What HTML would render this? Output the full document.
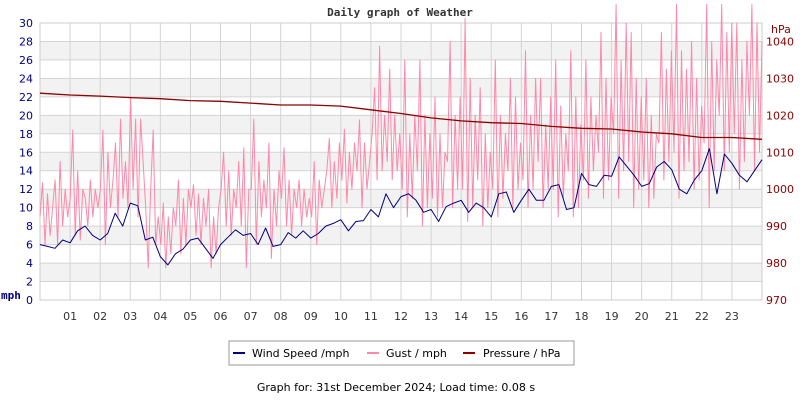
<!DOCTYPE html>
<html><head><meta charset="utf-8"><style>
body{margin:0;background:#fff;width:800px;height:400px;overflow:hidden;font-family:"DejaVu Sans Mono","Liberation Mono",monospace;}
svg{display:block}
</style></head><body>
<svg id="chart" width="800" height="400" viewBox="0 0 800 400" xmlns="http://www.w3.org/2000/svg">
<text x="400" y="16" text-anchor="middle" font-family="DejaVu Sans Mono, Liberation Mono, monospace" font-weight="bold" font-size="11" fill="#333">Daily graph of Weather</text>
<g id="grid"></g>
<g id="axes"></g>
<g id="series"></g>
<text x="1" y="299" font-family="DejaVu Sans Mono, monospace" font-weight="bold" font-size="11" fill="#000080">mph</text>
<text x="771" y="33" font-family="DejaVu Sans, sans-serif" font-size="11" fill="#8b0000">hPa</text>
<g>
<rect x="229" y="341" width="345" height="24" fill="#fff" stroke="#999"/>
<g><line x1="233" y1="353" x2="245" y2="353" stroke="#000080" stroke-width="2"/><text x="252" y="357" font-family="DejaVu Sans, sans-serif" font-size="11" fill="#000">Wind Speed /mph</text></g>
<g><line x1="367" y1="353" x2="379" y2="353" stroke="#ff88aa" stroke-width="2"/><text x="386" y="357" font-family="DejaVu Sans, sans-serif" font-size="11" fill="#000">Gust / mph</text></g>
<g><line x1="463" y1="353" x2="475" y2="353" stroke="#8b0000" stroke-width="2"/><text x="483" y="357" font-family="DejaVu Sans, sans-serif" font-size="11" fill="#000">Pressure / hPa</text></g>
</g>
<text x="396" y="391" text-anchor="middle" font-family="DejaVu Sans, sans-serif" font-size="11" fill="#000">Graph for: 31st December 2024; Load time: 0.08 s</text>
</svg>
<script>
const hourLabels=["01","02","03","04","05","06","07","08","09","10","11","12","13","14","15","16","17","18","19","20","21","22","23"];
const mphTicks=[0,2,4,6,8,10,12,14,16,18,20,22,24,26,28,30];
const hpaTicks=[970,980,990,1000,1010,1020,1030,1040];
// wind speed, every 15 minutes (mph)
const windSpeed=[6,5.8,5.6,6.5,6.2,7.5,8,7,6.5,7.2,9.4,8,10.5,10.2,6.5,6.8,4.7,3.8,5,5.5,6.5,6.7,5.6,4.5,6,6.8,7.6,7,7.2,6,7.8,5.8,6,7.3,6.7,7.5,6.7,7.2,8,8.3,8.7,7.5,8.5,8.6,9.8,9,11.5,10,11.2,11.5,10.8,9.5,9.8,8.5,10.1,10.5,10.8,9.5,10.5,10,9,11.5,11.7,9.5,10.8,12,10.8,10.8,12.3,12.5,9.8,10,13.7,12.5,12.3,13.5,13.4,15.5,14.5,13.5,12.3,12.6,14.4,15,14.1,12,11.5,13,14,16.4,11.5,15.8,14.8,13.5,12.8,14,15.2];
// gust, every 5 minutes (mph)
const gust=[9,12.7,6,11.5,7,10, 13,6,15,8,12,9, 11,18.4,7,14,6.5,12, 11,8,13,9,12,10, 12,18.4,6,16,10,13, 17,9,19.6,11,15,10,
22,12,19.6,9,19.6,15, 10,3.5,12,18.4,6,9, 6,10.5,3.5,9,5,10, 8,13,5,11,6,12, 10,12.5,7,11.5,6,11, 8,12,3.5,9,5,10,
12,16,8,14,7,12, 10,15,8,16.5,3.5,12, 12,19.6,6,15,9,13, 10,17,4.5,12,8,14, 11,16.5,8,13,7,12, 10,13,8,12,9,11,
9,15,6,13,10,12, 14,17.5,10,15,11,17, 13,18.5,10.5,16,12,17, 14,19.5,10,17,12,15, 18,23,13,27.5,14,20, 15,25,13,20,14,18,
12,26,9,18,11,20, 14,26,8,20,10,18, 11,22,9,18,10,16, 15,28,10,20,12,22, 12,30.5,8.5,24,10,20, 13,23,8,18,10,16,
12,26,9,20,11,18, 14,24,10,22,12,17, 13,27,10,20,12,24, 15,24,10,19,12,22, 12,26,9,21,11,18, 14,27,9,22,10,19,
13,26,11,22,14,20, 16,29,11,24,13,22, 18,32,11,26,14,30, 15,29,10,24,12,22, 13,24,10,20,11,18, 17,29,13,25,15,27,
16,32,11,27,14,25, 15,28,12,24,13,21, 17,32,10,28,14,26, 20,32,14,29,16,30, 18,30,12,26,15,28, 20,32,14,30,16,28];
// pressure, hourly (hPa)
const pressure=[1026,1025.5,1025.2,1024.8,1024.5,1024,1023.8,1023.3,1022.8,1022.8,1022.5,1021.5,1020.5,1019.3,1018.5,1018,1017.8,1017,1016.5,1016.3,1015.5,1015,1014,1014,1013.5];

const NS="http://www.w3.org/2000/svg";
const X0=40,X1=762,Y0=300,Y1=23;
const xH=h=>X0+h*(X1-X0)/24;
const yM=v=>Y0-v*(Y0-Y1)/30;
const yP=p=>yM((p-970)/2.5);
function mk(tag,attrs,parent){const e=document.createElementNS(NS,tag);for(const k in attrs)e.setAttribute(k,attrs[k]);parent.appendChild(e);return e;}
const grid=document.getElementById('grid'),axes=document.getElementById('axes'),series=document.getElementById('series');
for(let v=2;v<30;v+=4){
  const b=mk('rect',{x:X0,y:yM(v+2),width:X1-X0,height:yM(v)-yM(v+2),fill:'#f2f2f2'},grid);
  
  
}
mphTicks.forEach(v=>{
  const l=mk('line',{x1:X0,x2:X1,y1:yM(v),y2:yM(v),stroke:'#d4d4d4','stroke-width':1},grid);
  
  
  const t=mk('text',{x:33,y:yM(v)+4,'text-anchor':'end','font-size':11,'font-family':'DejaVu Sans, sans-serif',fill:'#000080'},axes);
  t.textContent=v;
  
  
});
hpaTicks.forEach(p=>{
  const t=mk('text',{x:766,y:yP(p)+4,'font-size':11,'font-family':'DejaVu Sans, sans-serif',fill:'#8b0000'},axes);
  t.textContent=p;
  
  
});
hourLabels.forEach((s,i)=>{
  const h=i+1;
  const l=mk('line',{x1:xH(h),x2:xH(h),y1:Y1,y2:Y0,stroke:'#d4d4d4','stroke-width':1},grid);
  
  
  const t=mk('text',{x:xH(h),y:320,'text-anchor':'middle','font-size':11,'font-family':'DejaVu Sans, sans-serif',fill:'#333'},axes);
  t.textContent=s;
  
  
});
const frame=mk('rect',{x:X0,y:Y1,width:X1-X0,height:Y0-Y1,fill:'none',stroke:'#ccc'},grid);


function line(arr,stepH,yf,color,w,name){
  const pts=arr.map((v,i)=>xH(i*stepH).toFixed(1)+','+yf(v).toFixed(1)).join(' ');
  const p=mk('polyline',{points:pts,fill:'none',stroke:color,'stroke-width':w,'stroke-linejoin':'round'},series);
  
  
}
line(gust,24/(gust.length-1),yM,'#ff88aa',1,'gust-line');
line(windSpeed,24/(windSpeed.length-1),yM,'#000080',1,'wind-speed-line');
line(pressure,1,yP,'#8b0000',1.3,'pressure-line');
</script>
</body></html>
